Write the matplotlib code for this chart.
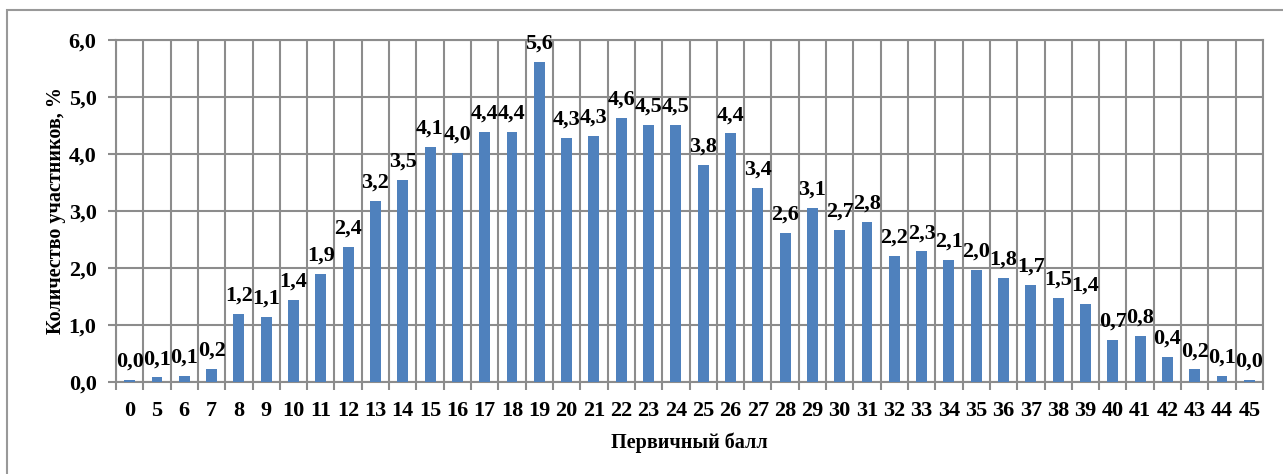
import matplotlib
matplotlib.use("Agg")
import matplotlib.pyplot as plt
import numpy as np
from matplotlib.patches import Rectangle

# Primary score categories
scores = ['0', '5', '6', '7', '8', '9', '10', '11', '12', '13', '14', '15', '16',
          '17', '18', '19', '20', '21', '22', '23', '24', '25', '26', '27', '28',
          '29', '30', '31', '32', '33', '34', '35', '36', '37', '38', '39', '40',
          '41', '42', '43', '44', '45']

# Share of participants, %
share = [0.04, 0.08, 0.11, 0.23, 1.19, 1.14, 1.44, 1.89, 2.37, 3.18, 3.54, 4.13,
         4.02, 4.39, 4.39, 5.61, 4.28, 4.32, 4.64, 4.51, 4.51, 3.80, 4.36, 3.40,
         2.62, 3.06, 2.66, 2.81, 2.21, 2.29, 2.14, 1.96, 1.82, 1.70, 1.48, 1.37,
         0.74, 0.81, 0.44, 0.22, 0.11, 0.03]

y_ticks = [0, 1, 2, 3, 4, 5, 6]

plt.rcParams['font.family'] = ['Liberation Serif', 'DejaVu Serif']
plt.rcParams['font.weight'] = 'bold'

W, H = 1283, 474
fig = plt.figure(figsize=(W / 100, H / 100), dpi=100)

# outer chart frame (cropped at right and bottom)
fig.patches.append(Rectangle((7 / W, -0.05), 1.1, (H - 10) / H + 0.05,
                             transform=fig.transFigure, fill=False,
                             edgecolor='#999999', linewidth=1.5))

ax = fig.add_axes([116 / W, (H - 382) / H, (1263 - 116) / W, (382 - 40) / H])

x = np.arange(len(scores))
ax.bar(x, share, width=0.4, color='#4F81BD', zorder=3)

for xi, v in zip(x, share):
    ax.annotate(f'{v:.1f}'.replace('.', ','), (xi, v), xytext=(0, 6),
                textcoords='offset points', ha='center', va='bottom',
                fontsize=16, fontweight='bold', zorder=4)

grid_c = '#8c8c8c'
ax.set_xlim(-0.5, len(scores) - 0.5)
ax.set_ylim(0, 6)
ax.set_yticks(y_ticks)
ax.set_yticklabels([f'{t:.1f}'.replace('.', ',') for t in y_ticks])
ax.set_xticks(x)
ax.set_xticklabels(scores)
ax.set_xticks(np.arange(-0.5, len(scores)), minor=True)
ax.tick_params(axis='x', which='major', length=0, pad=14, labelsize=16)
ax.tick_params(axis='x', which='minor', length=6, color=grid_c, width=1.5)
ax.tick_params(axis='y', length=6, color=grid_c, width=1.5, pad=8, labelsize=16)

ax.grid(True, axis='y', color=grid_c, linewidth=1.5, zorder=0)
ax.grid(True, axis='x', which='minor', color=grid_c, linewidth=1.5, zorder=0)
for s in ax.spines.values():
    s.set_color(grid_c)
    s.set_linewidth(1.5)

ax.set_xlabel('Первичный балл', fontsize=14.5, fontweight='bold', labelpad=8)
ax.set_ylabel('Количество участников, %', fontsize=14.5, fontweight='bold', labelpad=2)

fig.savefig('out.png', dpi=100)
